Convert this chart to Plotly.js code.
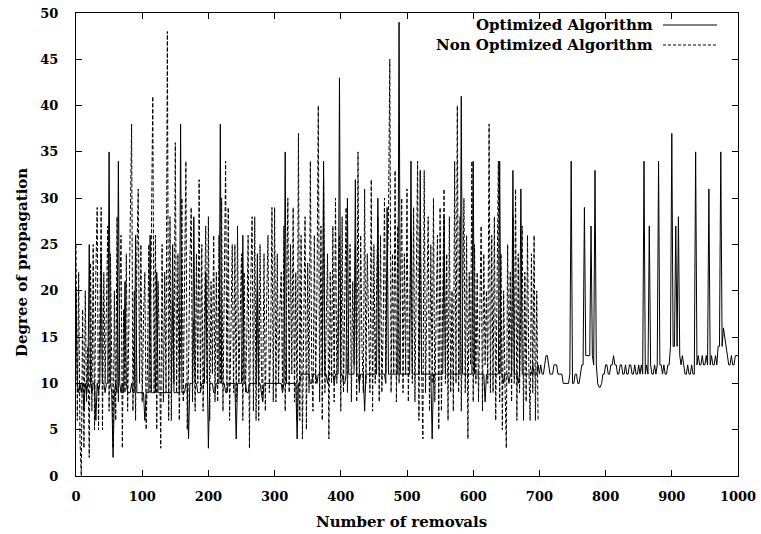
<!DOCTYPE html>
<html>
<head>
<meta charset="utf-8">
<script src="https://cdn.plot.ly/plotly-3.0.1.min.js"></script>
<style>
html,body{margin:0;padding:0;background:#fff;}
#chart{width:761px;height:534px;}
</style>
</head>
<body>
<div id="chart"></div>
<script>
// ---- data ----
const seriesNames = ["Optimized Algorithm", "Non Optimized Algorithm"];
const xAxisTitle = "Number of removals";
const yAxisTitle = "Degree of propagation";
const xTickVals = [0,100,200,300,400,500,600,700,800,900,1000];
const yTickVals = [0,5,10,15,20,25,30,35,40,45,50];

// Optimized algorithm: one value every 2 removals, from 0 to 1000
const optimizedStep = 2;
const optimized = [
  20,10,9,10,9,10,7,10,9,10,25,10,9,10,10,6,10,9,10,24,10,10,9,10,10,
  35,10,9,2,9,10,9,34,10,9,10,9,21,10,9,9,9,10,9,9,26,9,9,9,9,
  9,9,6,9,9,9,26,9,9,9,9,22,9,9,9,9,9,9,9,9,9,9,9,25,9,
  9,9,9,9,38,9,9,9,10,10,4,10,10,10,28,10,10,9,9,9,10,10,10,22,10,
  3,10,10,10,9,9,10,10,10,38,10,10,10,9,9,10,10,10,10,10,10,4,10,10,10,
  10,26,10,10,9,9,10,10,10,10,10,10,24,10,10,9,8,10,10,10,10,10,10,10,10,
  10,10,10,10,10,10,9,10,35,10,10,10,10,10,10,10,10,4,10,10,11,11,11,11,11,
  11,11,10,10,11,11,11,10,11,11,11,11,34,11,11,10,11,11,11,11,10,11,11,11,43,
  11,11,10,10,11,30,11,11,11,11,11,32,11,11,10,11,11,11,7,11,11,11,11,11,11,
  11,11,11,30,11,11,11,11,11,10,29,11,11,11,11,11,11,11,11,49,11,11,11,11,11,
  11,11,11,34,11,11,11,11,11,11,33,11,11,11,11,11,11,11,11,4,11,11,11,11,11,
  11,11,11,28,11,11,11,11,11,11,11,11,11,11,11,11,41,11,11,11,11,11,11,11,11,
  34,11,11,11,11,11,11,11,11,8,11,11,11,11,11,11,11,11,11,11,34,11,11,10,11,
  11,11,10,11,11,33,11,11,11,10,11,31,11,11,11,11,11,11,11,11,12,11,11,11,12,
  11,12,11,11,12,13,13,12,11,11,11,12,12,12,11,11,11,11,10,10,10,10,10,11,34,
  10,10,11,11,10,10,11,12,12,29,13,13,13,13,27,13,12,33,12,10,9.6,9.6,10,11,11,
  12,12,11,11,12,12,13,12,12,11,11,12,12,11,11,12,11,11,12,12,11,11,12,11,11,
  12,11,12,11,34,11,12,11,27,12,11,11,12,11,12,34,12,12,11,12,11,11,12,12,14,
  37,14,14,27,14,28,13,12,13,12,11,11,12,11,11,12,11,11,35,12,13,12,12,13,12,
  12,13,12,31,12,13,12,12,13,12,14,14,35,14,16,15,14,13,12,12,13,12,12,13,13,
  13
];

// Non optimized algorithm: one value every 2 removals, from 0 to 698
const nonOptimizedStep = 2;
const nonOptimized = [
  25,6,22,4,0,18,3,20,8,14,2,23,7,25,5,
  22,29,5,17,29,5,22,10,18,27,7,24,12,3,20,
  6,28,8,19,26,3,18,9,24,7,16,26,38,7,20,
  6,24,31,10,25,8,17,22,5,12,25,9,27,41,9,
  26,5,21,14,3,25,8,22,9,48,6,28,6,19,10,
  36,9,24,6,15,30,8,20,34,5,12,23,29,8,17,
  7,24,10,32,9,25,7,18,27,10,28,6,21,11,26,
  8,22,8,26,10,30,7,20,34,9,29,6,16,25,9,
  25,8,27,10,19,24,6,22,9,15,26,3,21,28,7,
  28,6,20,6,25,12,8,24,7,19,26,9,14,29,8,
  29,8,24,10,18,22,9,27,7,20,30,9,25,11,29,
  8,22,6,37,6,26,4,19,28,5,23,9,34,12,7,
  26,10,20,40,8,27,6,32,9,18,24,4,22,10,27,
  8,30,10,19,26,7,28,9,22,29,9,17,25,8,21,
  12,25,8,35,9,26,14,9,31,10,24,18,9,32,7,
  25,10,20,28,8,26,9,16,30,11,22,27,45,9,24,
  11,33,8,27,10,18,30,9,24,11,31,8,20,26,10,
  29,8,22,34,6,27,12,4,33,9,19,28,7,25,10,
  30,8,18,26,5,29,7,22,31,10,24,6,28,9,20,
  7,34,10,40,9,28,7,19,30,9,26,4,22,12,34,
  8,25,10,22,8,17,27,7,24,12,20,10,38,9,26,
  9,28,6,18,34,8,24,5,20,10,3,25,11,22,8,
  28,10,31,6,24,9,19,27,6,22,8,26,12,6,24,
  9,26,6,20,6
];

// ---- chart ----
const FONT = "DejaVu Serif";
const optX = optimized.map((_, i) => i * optimizedStep);
const nonX = nonOptimized.map((_, i) => i * nonOptimizedStep);

const traces = [
  {x: optX, y: optimized, type: "scatter", mode: "lines", name: seriesNames[0],
   line: {color: "#000", width: 1}, hoverinfo: "skip"},
  {x: nonX, y: nonOptimized, type: "scatter", mode: "lines", name: seriesNames[1],
   line: {color: "#000", width: 1, dash: "4px,2px"}, hoverinfo: "skip"}
];

function px2paperX(p){ return (p - 76) / 662; }
function px2paperY(p){ return (476 - p) / 463; }

const legendY = [25, 45];
const legendTextRight = 655;
const layout = {
  width: 761, height: 534,
  margin: {l: 76, r: 23, t: 13, b: 58},
  paper_bgcolor: "#fff", plot_bgcolor: "#fff",
  showlegend: false,
  font: {family: FONT, color: "#000", size: 13, weight: "bold"},
  xaxis: {
    range: [0, 1000], tickvals: xTickVals, ticktext: xTickVals.map(String),
    ticks: "inside", ticklen: 6, tickcolor: "#000", tickwidth: 1,
    showline: true, linecolor: "#000", linewidth: 1, mirror: "ticks",
    showgrid: false, zeroline: false, ticklabelstandoff: 8,
    tickfont: {family: FONT, size: 13, color: "#000", weight: "bold"}
  },
  yaxis: {
    range: [0, 50], tickvals: yTickVals, ticktext: yTickVals.map(String),
    ticks: "inside", ticklen: 6, tickcolor: "#000", tickwidth: 1,
    showline: true, linecolor: "#000", linewidth: 1, mirror: "ticks",
    showgrid: false, zeroline: false, ticklabelstandoff: 14,
    tickfont: {family: FONT, size: 13, color: "#000", weight: "bold"}
  },
  annotations: [
    {text: xAxisTitle, xref: "paper", yref: "paper", x: px2paperX(401), y: px2paperY(522),
     xanchor: "center", yanchor: "middle", showarrow: false,
     font: {family: FONT, size: 15, color: "#000", weight: "bold"}},
    {text: yAxisTitle, xref: "paper", yref: "paper", x: px2paperX(22), y: px2paperY(263),
     xanchor: "center", yanchor: "middle", showarrow: false, textangle: -90,
     font: {family: FONT, size: 15, color: "#000", weight: "bold"}},
    {text: seriesNames[0], xref: "paper", yref: "paper", x: px2paperX(legendTextRight), y: px2paperY(legendY[0]),
     xanchor: "right", yanchor: "middle", showarrow: false,
     font: {family: FONT, size: 15, color: "#000", weight: "bold"}},
    {text: seriesNames[1], xref: "paper", yref: "paper", x: px2paperX(legendTextRight), y: px2paperY(legendY[1]),
     xanchor: "right", yanchor: "middle", showarrow: false,
     font: {family: FONT, size: 15, color: "#000", weight: "bold"}}
  ],
  shapes: [
    {type: "line", xref: "paper", yref: "paper", x0: px2paperX(663), x1: px2paperX(717),
     y0: px2paperY(legendY[0]), y1: px2paperY(legendY[0]), line: {color: "#000", width: 1}},
    {type: "line", xref: "paper", yref: "paper", x0: px2paperX(663), x1: px2paperX(717),
     y0: px2paperY(legendY[1]), y1: px2paperY(legendY[1]), line: {color: "#000", width: 1, dash: "3px,2px"}}
  ]
};

Plotly.newPlot("chart", traces, layout, {displayModeBar: false, staticPlot: true});
</script>
</body>
</html>
